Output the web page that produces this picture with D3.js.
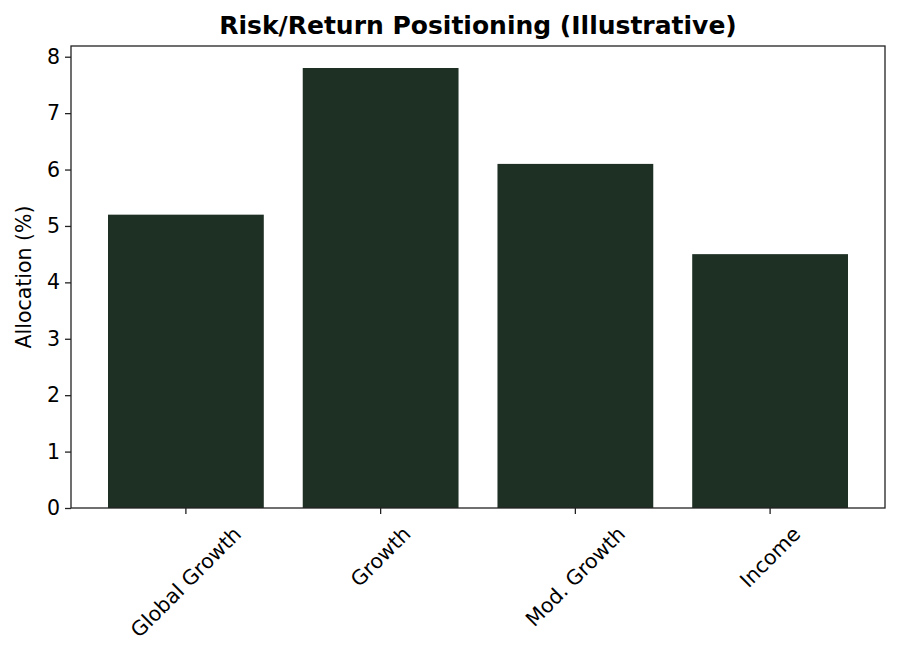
<!DOCTYPE html>
<html><head><meta charset="utf-8">
<script src="https://cdn.jsdelivr.net/npm/d3@7"></script>
<style>body{margin:0;background:#fff}svg{display:block}text{font-family:"DejaVu Sans",sans-serif;fill:#000}</style>
</head><body>
<svg id="c" width="900" height="657"></svg>
<script>
const categories = ["Global Growth", "Growth", "Mod. Growth", "Income"];
const values = [5.2, 7.8, 6.1, 4.5];
const yTicks = [0, 1, 2, 3, 4, 5, 6, 7, 8];
const title = "Risk/Return Positioning (Illustrative)";
const yLabel = "Allocation (%)";

const svg = d3.select("#c");
const L = 71, R = 885, T = 46, B = 508;
const barColor = "#1e2f24";
const axisColor = "#222";
const fs = 20.5;

const x = d3.scaleLinear().domain([-0.59, 3.59]).range([L, R]);
const y = d3.scaleLinear().domain([0, 7.8 * 1.05]).range([B, T]);

svg.append("g").selectAll("rect").data(values).join("rect")
  .attr("x", (d, i) => x(i - 0.4)).attr("width", (d, i) => x(i + 0.4) - x(i - 0.4))
  .attr("y", d => y(d)).attr("height", d => y(0) - y(d)).attr("fill", barColor);

svg.append("rect").attr("x", L).attr("y", T).attr("width", R - L).attr("height", B - T)
  .attr("fill", "none").attr("stroke", axisColor).attr("stroke-width", 1.3);

const ya = svg.append("g").attr("transform", `translate(${L},0)`)
  .call(d3.axisLeft(y).tickValues(yTicks).tickSize(6).tickPadding(5).tickFormat(d3.format("d")));
ya.select(".domain").remove();
ya.selectAll("line").attr("stroke", axisColor).attr("stroke-width", 1.3);
ya.selectAll("text").attr("font-size", fs).attr("font-family", "DejaVu Sans").attr("fill", "#000");

const xa = svg.append("g");
categories.forEach((c, i) => {
  const cx = x(i);
  xa.append("line").attr("x1", cx).attr("x2", cx).attr("y1", B).attr("y2", B + 6)
    .attr("stroke", axisColor).attr("stroke-width", 1.3);
  const t = xa.append("text").text(c).attr("font-size", fs)
    .attr("text-anchor", "middle").attr("dominant-baseline", "central");
  const w = t.node().getComputedTextLength();
  const h = fs * 1.17;
  const cy = B + 6 + 8 + (w + h) / (2 * Math.SQRT2);
  t.attr("transform", `translate(${cx},${cy}) rotate(-45)`);
});

svg.append("text").text(title).attr("x", (L + R) / 2).attr("y", 34)
  .attr("text-anchor", "middle").attr("font-size", 25).attr("font-weight", "bold");

svg.append("text").text(yLabel).attr("transform", `translate(24,${(T + B) / 2}) rotate(-90)`)
  .attr("text-anchor", "middle").attr("dominant-baseline", "central").attr("font-size", fs);
</script>
</body></html>
